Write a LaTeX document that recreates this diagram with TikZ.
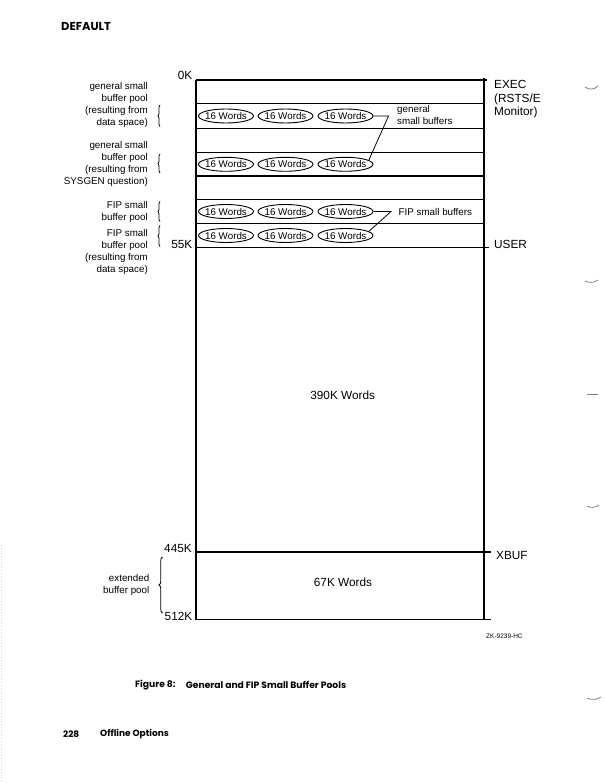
\documentclass[tikz,border=0pt]{standalone}
\usepackage{fontspec}
\setmainfont{Liberation Sans}
\newfontfamily\headfont{Poppins}
\usetikzlibrary{shapes.geometric,decorations.pathreplacing}
\begin{document}
\begin{tikzpicture}[x=1pt,y=-1pt,
  box/.style={line width=1.1pt},
  lab/.style={font=\fontsize{9.8}{12}\selectfont, align=right, anchor=east, inner sep=0pt},
  big/.style={font=\fontsize{11.8}{13.3}\selectfont, inner sep=0pt},
  word/.style={ellipse, draw, line width=0.9pt, minimum width=55pt, minimum height=14pt, inner sep=0pt, font=\fontsize{9.8}{11}\selectfont},
  brc/.style={decorate, decoration={brace, amplitude=2pt}, line width=0.8pt},
  lead/.style={line width=0.8pt},
  head/.style={font=\headfont\bfseries\fontsize{9.2}{11}\selectfont, anchor=west, inner sep=0pt},
  pagemark/.style={gray, line width=0.8pt}]
\useasboundingbox (0,0) rectangle (604,783);

% frame
\draw[box] (196,80) -- (487,80);
\draw[box] (196,80) -- (196,619.5) -- (491,619.5);
\draw[box] (484,78) -- (484,619.5);
\foreach \y in {103.5,128.5,152.5,176,199.5,223.5} \draw[box] (196,\y) -- (484,\y);
\draw[box] (196,247.5) -- (489,247.5);
\draw[box] (196,552) -- (491,552);

% buffers
\foreach \r/\y in {1/116,2/164.3,3/211.5,4/235.5}
  \foreach \c/\x in {1/226,2/285.5,3/345.5}
    \node[word] (r\r c\c) at (\x,\y) {\makebox[0pt]{16 Words}};

\coordinate (k1) at (388.5,116);
\draw[lead] (r1c3.east) -- (k1) -- (r2c3.10);
\coordinate (k2) at (391,211.5);
\draw[lead] (r3c3.east) -- (k2) -- (r4c3.10);

\node[lab, align=left, anchor=west] (gsb) at (397,115.5) {general\\small buffers};
\node[lab, align=left, anchor=west] (fsb) at (398.5,212) {FIP small buffers};

% left labels
\node[lab] (l1) at (148,105) {general small\\buffer pool\\(resulting from\\data space)};
\node[lab] (l2) at (148,163.5) {general small\\buffer pool\\(resulting from\\SYSGEN question)};
\node[lab] (l3) at (148,211.5) {FIP small\\buffer pool};
\node[lab] (l4) at (148,252) {FIP small\\buffer pool\\(resulting from\\data space)};
\node[lab] (l5) at (149.5,585) {extended\\buffer pool};

\draw[brc] (160,126.5) -- (160,105);
\draw[brc] (160,173) -- (160,154);
\draw[brc] (160,221.5) -- (160,201.5);
\draw[brc] (160,246.5) -- (160,225.5);
\draw[decorate, decoration={brace, amplitude=3.5pt}, line width=0.8pt] (162.5,613) -- (162.5,557);

% addresses
\node[big, anchor=east] (a0) at (192.5,75.5) {0K};
\node[big, anchor=east] (a55) at (192.5,244) {55K};
\node[big, anchor=east] (a445) at (192,548) {445K};
\node[big, anchor=east] (a512) at (192.5,616) {512K};

\node[big, anchor=north west, align=left] (exec) at (494,80.5) {EXEC\\(RSTS/E\\Monitor)};
\node[big, anchor=west] (user) at (494,244) {USER};
\node[big, anchor=west] (xbuf) at (496,555.5) {XBUF};

\node[big] (w390) at (342.7,395) {390K Words};
\node[big] (w67) at (343,582) {67K Words};

\node[font=\fontsize{6.5}{7}\selectfont, anchor=west, inner sep=0pt] (zk) at (486,636) {ZK-9239-HC};

% page text
\node[head, font=\headfont\bfseries\fontsize{11.5}{13}\selectfont] (title) at (61,26.7) {DEFAULT};
\node[head] (fig) at (135,685) {Figure 8:};
\node[head] (cap) at (185.7,685) {General and FIP Small Buffer Pools};
\node[head, font=\headfont\bfseries\fontsize{9}{11}\selectfont] (pg) at (63,734.3) {228};
\node[head, font=\headfont\bfseries\fontsize{9}{11}\selectfont] (sec) at (100,734.3) {Offline Options};

% margin marks
\draw[pagemark] (585,87) .. controls (589,90) and (594,90) .. (598,86);
\draw[pagemark] (585,281) .. controls (589,283) and (594,283) .. (598,280);
\draw[pagemark] (587,394) -- (598,394);
\draw[pagemark] (587,506) .. controls (590,508) and (595,508) .. (599,505);
\draw[pagemark] (587,698) .. controls (591,700) and (597,700) .. (601,697);
\draw[gray!35, dotted, line width=0.8pt] (1.5,545) -- (1.5,783);
\end{tikzpicture}
\end{document}
